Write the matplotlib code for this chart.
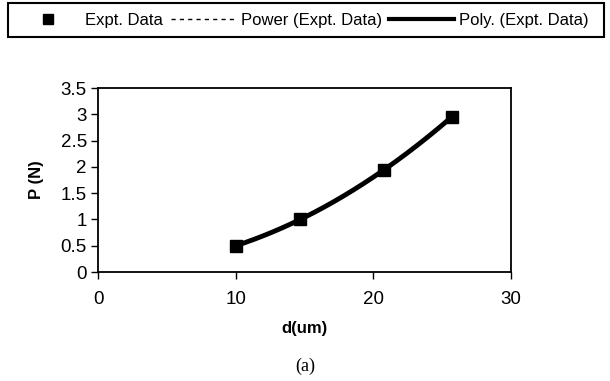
import numpy as np
import matplotlib
matplotlib.use("Agg")
import matplotlib.pyplot as plt
from matplotlib.lines import Line2D
from matplotlib.patches import Rectangle

d_um = [10, 14.7, 20.8, 25.7]
P_N = [0.5, 1.0, 1.95, 2.95]
x_ticks = [0, 10, 20, 30]
y_ticks = [0, 0.5, 1, 1.5, 2, 2.5, 3, 3.5]
y_tick_labels = ["0", "0.5", "1", "1.5", "2", "2.5", "3", "3.5"]

plt.rcParams['font.family'] = ['Liberation Sans', 'DejaVu Sans']

fig = plt.figure(figsize=(6.1, 3.81), dpi=100)
ax = fig.add_axes([0.1607, 0.286, 0.677, 0.483])

xs = np.linspace(min(d_um), max(d_um), 200)
# Power trendline
b, loga = np.polyfit(np.log(d_um), np.log(P_N), 1)
ax.plot(xs, np.exp(loga) * xs ** b, color='black', lw=1, ls=(0, (3, 3)), zorder=2)
# Polynomial trendline
coef = np.polyfit(d_um, P_N, 2)
ax.plot(xs, np.polyval(coef, xs), color='black', lw=3.5, zorder=3, solid_capstyle='butt')
ax.plot(d_um, P_N, ls='none', marker='s', ms=8, color='black', zorder=4)

ax.set_xlim(0, 30)
ax.set_ylim(0, 3.5)
ax.set_xticks(x_ticks)
ax.set_yticks(y_ticks)
ax.set_yticklabels(y_tick_labels)
ax.tick_params(axis='both', labelsize=13.5, direction='out', length=5, width=1, colors='black')
ax.tick_params(axis='x', pad=9)
ax.tick_params(axis='y', pad=3)
for s in ax.spines.values():
    s.set_linewidth(1.3)
    s.set_color('black')
ax.set_xlabel("d(um)", fontsize=12, fontweight='bold', labelpad=9)
ax.set_ylabel("P (N)", fontsize=12, fontweight='bold', labelpad=12)

# legend box at top
fig.patches.append(Rectangle((8/610, 1-37/381), 596/610, 34/381, transform=fig.transFigure,
                             fill=False, edgecolor='black', lw=1.5))
handles = [Line2D([], [], ls='none', marker='s', ms=7, color='black'),
           Line2D([], [], color='black', lw=1, ls=(0, (3, 3))),
           Line2D([], [], color='black', lw=3)]
labels = ["Expt. Data", "Power (Expt. Data)", "Poly. (Expt. Data)"]
fig.legend(handles, labels, loc='center', bbox_to_anchor=(302/610, 1-20/381), ncol=3,
           frameon=False, fontsize=12, handlelength=3.9, handletextpad=0.3, columnspacing=0.45)

fig.text(305/610, 1-366/381, "(a)", ha='center', va='center', fontsize=13,
         family=['Liberation Serif', 'DejaVu Serif'])

fig.savefig("out.png", dpi=100)
